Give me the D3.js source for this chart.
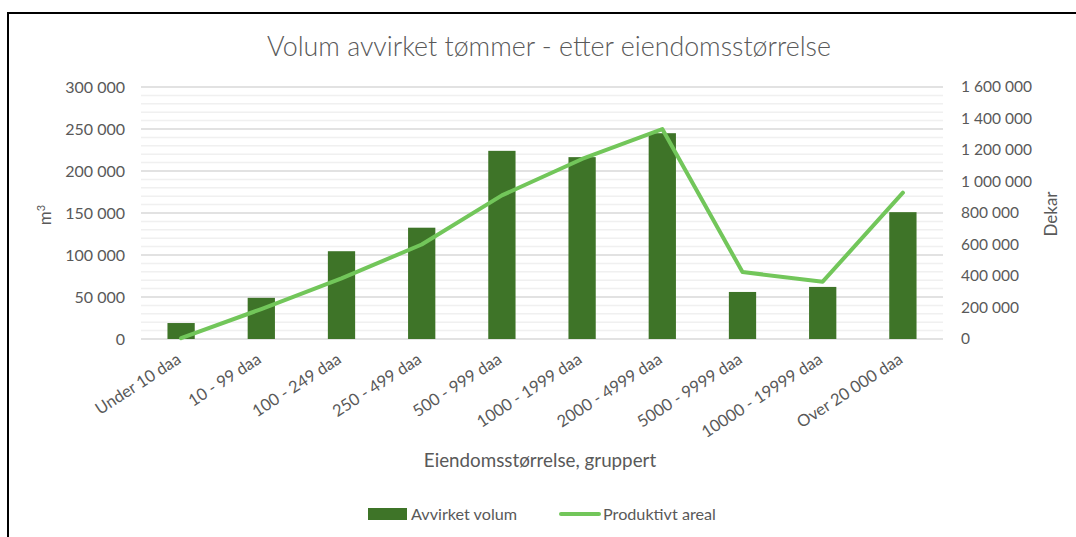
<!DOCTYPE html>
<html>
<head>
<meta charset="utf-8">
<script src="https://cdn.jsdelivr.net/npm/d3@7"></script>
<style>
  body { margin: 0; background: #fff; }
  text { font-family: Lato, "Open Sans", sans-serif; fill: #595959; }
</style>
</head>
<body>
<div id="chart"></div>
<script>
"use strict";

// categories on the x axis
var categories = ["Under 10 daa", "10 - 99 daa", "100 - 249 daa", "250 - 499 daa", "500 - 999 daa",
                  "1000 - 1999 daa", "2000 - 4999 daa", "5000 - 9999 daa", "10000 - 19999 daa", "Over 20 000 daa"];

// Avvirket volum (m3), left axis
var volum = [19000, 49000, 104500, 132500, 224000, 216500, 245000, 56000, 62000, 151000];

// Produktivt areal (dekar), right axis
var areal = [5000, 190000, 385000, 600000, 912000, 1143000, 1333000, 425000, 364000, 929000];

var leftTicks = [0, 50000, 100000, 150000, 200000, 250000, 300000];
var rightTicks = [0, 200000, 400000, 600000, 800000, 1000000, 1200000, 1400000, 1600000];

var W = 1076, H = 537;
var margin = { top: 87, right: 133, bottom: 198, left: 141 },
    width = W - margin.left - margin.right,
    height = H - margin.top - margin.bottom;

var locale = d3.formatLocale({ decimal: ",", thousands: " ", grouping: [3], currency: ["", ""] });
var fmt = locale.format(",");

var root = d3.select("#chart")
             .append("svg")
             .attr("width", W)
             .attr("height", H);

// frame (only top and left edges show in the picture)
root.append("path")
    .attr("d", "M8,537 V13 H1076")
    .attr("fill", "none")
    .attr("stroke", "#000")
    .attr("stroke-width", 2);

// title
root.append("text")
    .attr("x", 549)
    .attr("y", 56)
    .attr("text-anchor", "middle")
    .style("font-size", "26.8px")
    .style("font-weight", "300")
    .text("Volum avvirket tømmer - etter eiendomsstørrelse");

var svg = root.append("g")
              .attr("transform", "translate(" + margin.left + "," + margin.top + ")");

// Scales
var xscale = d3.scaleBand()
               .domain(categories)
               .range([0, width]);

var yleft = d3.scaleLinear()
              .domain([0, 300000])
              .range([height, 0]);

var yright = d3.scaleLinear()
               .domain([0, 1600000])
               .range([height, 0]);

// minor gridlines every 10 000
svg.selectAll(".minor")
   .data(d3.range(10000, 300000, 10000).filter(function (v) { return v % 50000 != 0; }))
   .enter()
   .append("line")
   .attr("class", "minor")
   .attr("x1", 0)
   .attr("x2", width)
   .attr("y1", function (d) { return yleft(d); })
   .attr("y2", function (d) { return yleft(d); })
   .attr("stroke", "#f0f0f0")
   .attr("stroke-width", 1.5);

// major gridlines
svg.selectAll(".major")
   .data(leftTicks)
   .enter()
   .append("line")
   .attr("class", "major")
   .attr("x1", 0)
   .attr("x2", width)
   .attr("y1", function (d) { return yleft(d); })
   .attr("y2", function (d) { return yleft(d); })
   .attr("stroke", "#d9d9d9")
   .attr("stroke-width", 1.5);

// left axis
var leftaxis = d3.axisLeft(yleft)
                 .tickValues(leftTicks)
                 .tickFormat(fmt)
                 .tickSize(0)
                 .tickPadding(16);
var gl = svg.append("g").call(leftaxis);
gl.select(".domain").remove();
gl.selectAll("text")
  .style("font-size", "16px")
  .attr("fill", "#595959");

// right axis
var rightaxis = d3.axisRight(yright)
                  .tickValues(rightTicks)
                  .tickFormat(fmt)
                  .tickSize(0)
                  .tickPadding(18);
var gr = svg.append("g")
            .attr("transform", "translate(" + width + ",0)")
            .call(rightaxis);
gr.select(".domain").remove();
gr.selectAll("text")
  .style("font-size", "15.5px")
  .attr("fill", "#595959");

// bars
var barw = xscale.bandwidth() * 0.34;
svg.selectAll(".bar")
   .data(volum)
   .enter()
   .append("rect")
   .attr("class", "bar")
   .attr("x", function (d, i) { return xscale(categories[i]) + xscale.bandwidth() / 2 - barw / 2; })
   .attr("y", function (d) { return yleft(d); })
   .attr("width", barw)
   .attr("height", function (d) { return height - yleft(d); })
   .attr("fill", "#3e7428");

// line
var line = d3.line()
             .x(function (d, i) { return xscale(categories[i]) + xscale.bandwidth() / 2; })
             .y(function (d) { return yright(d); });

svg.append("path")
   .datum(areal)
   .attr("d", line)
   .attr("fill", "none")
   .attr("stroke", "#72c65a")
   .attr("stroke-width", 4)
   .attr("stroke-linejoin", "round")
   .attr("stroke-linecap", "round");

// x labels, rotated
svg.selectAll(".xlabel")
   .data(categories)
   .enter()
   .append("text")
   .attr("class", "xlabel")
   .attr("text-anchor", "end")
   .attr("transform", function (d) {
     var cx = xscale(d) + xscale.bandwidth() / 2 + 1;
     return "translate(" + cx + "," + (height + 23) + ") rotate(-33)";
   })
   .style("font-size", "16.5px")
   .text(function (d) { return d; });

// axis titles
root.append("text")
    .attr("transform", "translate(51,215) rotate(-90)")
    .attr("text-anchor", "middle")
    .style("font-size", "17px")
    .html("m<tspan dy='-6' style='font-size:11px'>3</tspan>");

root.append("text")
    .attr("transform", "translate(1057,214) rotate(-90)")
    .attr("text-anchor", "middle")
    .style("font-size", "17px")
    .text("Dekar");

root.append("text")
    .attr("x", 540)
    .attr("y", 467)
    .attr("text-anchor", "middle")
    .style("font-size", "18.8px")
    .text("Eiendomsstørrelse, gruppert");

// legend
var legend = root.append("g");
legend.append("rect")
      .attr("x", 368)
      .attr("y", 508)
      .attr("width", 39)
      .attr("height", 12)
      .attr("fill", "#3e7428");
legend.append("text")
      .attr("x", 411)
      .attr("y", 520)
      .style("font-size", "16.2px")
      .text("Avvirket volum");
legend.append("line")
      .attr("x1", 561)
      .attr("x2", 599)
      .attr("y1", 514)
      .attr("y2", 514)
      .attr("stroke", "#72c65a")
      .attr("stroke-width", 4)
      .attr("stroke-linecap", "round");
legend.append("text")
      .attr("x", 603)
      .attr("y", 520)
      .style("font-size", "16.2px")
      .text("Produktivt areal");
</script>
</body>
</html>
